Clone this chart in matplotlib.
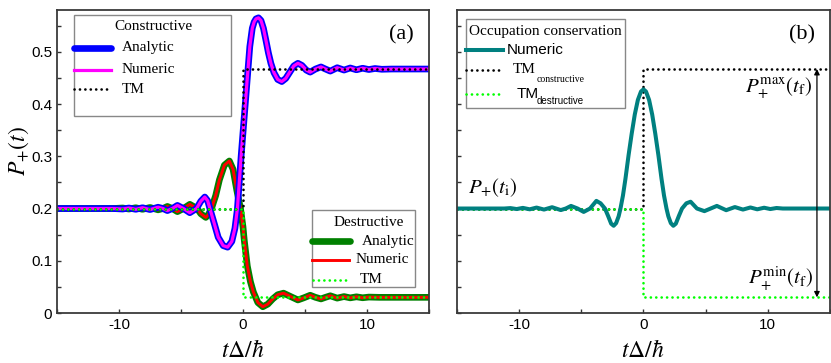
import matplotlib
matplotlib.use("Agg")
import matplotlib.pyplot as plt
from matplotlib.patches import Rectangle
from matplotlib.lines import Line2D
from matplotlib.ticker import MultipleLocator

# ---- data ----
# panel (a): constructive interference
t_con = [-15, -10.5, -9.7, -9.2, -8.65, -8.1, -7.5, -6.85, -6.45, -6.1, -5.7, -5.29, -4.8,
         -4.29, -3.75, -3.4, -3.08, -2.85, -2.67, -2.3, -2.0, -1.6, -1.24, -0.9, -0.65, -0.45,
         -0.3, -0.15, 0.0, 0.15, 0.35, 0.55, 0.75, 0.9, 1.05, 1.25, 1.45, 1.65, 1.85, 2.05, 2.25,
         2.5, 2.8, 3.13, 3.45, 3.8, 4.1, 4.43, 4.75, 5.1, 5.42, 5.85, 6.29, 6.65, 7.04, 7.6, 8.15,
         8.65, 9.15, 9.65, 10.15, 10.65, 11.2, 12, 15]
p_con = [0.2, 0.2, 0.199, 0.201, 0.1985, 0.2015, 0.198, 0.2025, 0.2, 0.196, 0.2, 0.206, 0.2,
         0.192, 0.2, 0.214, 0.222, 0.215, 0.2, 0.17, 0.145, 0.129, 0.126, 0.137, 0.162, 0.2,
         0.25, 0.30, 0.345, 0.39, 0.45, 0.51, 0.545, 0.557, 0.563, 0.565, 0.56, 0.545, 0.522, 0.498, 0.478,
         0.46, 0.447, 0.443, 0.449, 0.462, 0.473, 0.478, 0.474, 0.465, 0.461, 0.467, 0.471, 0.467, 0.463,
         0.4695, 0.465, 0.469, 0.4655, 0.4685, 0.466, 0.468, 0.4665, 0.467, 0.467]

# panel (a): destructive interference
t_des = [-15, -10.5, -9.7, -9.2, -8.65, -8.1, -7.5, -6.85, -6.45, -6.1, -5.7, -5.29, -4.8,
         -4.29, -3.7, -3.4, -3.0, -2.8, -2.54, -2.2, -1.9, -1.5, -1.1, -0.8, -0.5, -0.2,
         0.0, 0.1, 0.35, 0.6, 0.84, 1.2, 1.6, 2.0, 2.4, 2.8, 3.27, 3.8, 4.43, 4.9, 5.42,
         5.85, 6.29, 6.65, 7.04, 7.6, 8.15, 8.65, 9.15, 9.65, 10.15, 11, 15]
p_des = [0.2, 0.2, 0.201, 0.199, 0.2015, 0.1985, 0.202, 0.1975, 0.2, 0.204, 0.2, 0.194, 0.2,
         0.208, 0.2, 0.19, 0.183, 0.188, 0.2, 0.225, 0.255, 0.283, 0.291, 0.275, 0.235, 0.2,
         0.165, 0.14, 0.09, 0.06, 0.04, 0.02, 0.012, 0.017, 0.027, 0.035, 0.038, 0.032, 0.025, 0.029, 0.034,
         0.03, 0.027, 0.03, 0.033, 0.0285, 0.0315, 0.029, 0.031, 0.0292, 0.0305, 0.03, 0.03]

# transient model (TM) steps
t_tm = [-15, 0, 0, 15]
p_tm_con = [0.2, 0.2, 0.467, 0.467]
p_tm_des = [0.2, 0.2, 0.03, 0.03]

# panel (b): occupation conservation, numeric
t_occ = [-15, -11.2, -10.7, -10.2, -9.7, -9.15, -8.6, -8.0, -7.35, -6.65, -6.25, -5.83, -5.3, -4.81,
         -4.3, -3.79, -3.45, -3.1, -2.85, -2.6, -2.4, -2.2, -2.0, -1.85, -1.65, -1.45, -1.2, -0.95,
         -0.7, -0.45, -0.2, 0.0, 0.2, 0.45, 0.7, 0.95, 1.2, 1.45, 1.65, 1.85, 2.0, 2.2, 2.4, 2.6,
         2.85, 3.1, 3.45, 3.79, 4.3, 4.9, 5.4, 5.9, 6.65, 7.35, 8.0, 8.6, 9.15, 9.7, 10.2, 10.7,
         11.2, 15]
p_occ = [0.2, 0.2, 0.2008, 0.199, 0.2012, 0.1985, 0.2018, 0.198, 0.2025, 0.197, 0.2, 0.205, 0.2, 0.1935,
         0.2, 0.2146, 0.21, 0.2, 0.186, 0.171, 0.167, 0.172, 0.185, 0.2, 0.225, 0.257, 0.302, 0.343,
         0.38, 0.408, 0.424, 0.428, 0.424, 0.408, 0.38, 0.343, 0.302, 0.257, 0.225, 0.2, 0.185, 0.172, 0.167, 0.171,
         0.186, 0.2, 0.21, 0.213, 0.2, 0.195, 0.2, 0.205, 0.1968, 0.2028, 0.198, 0.202, 0.1985, 0.2015, 0.199, 0.201,
         0.2, 0.2]

x_ticks = [-10, 0, 10]
y_ticks = [0, 0.1, 0.2, 0.3, 0.4, 0.5]
y_tick_labels = ["0", "0.1", "0.2", "0.3", "0.4", "0.5"]

# ---- style ----
plt.rcParams['font.family'] = ['Liberation Sans', 'DejaVu Sans']
plt.rcParams['mathtext.fontset'] = 'stix'
plt.rcParams['axes.unicode_minus'] = False
SERIF = ['Liberation Serif', 'DejaVu Serif']
DOT = (0, (0.05, 2.0))
dots = dict(lw=1.9, linestyle=DOT, dash_capstyle='round')

fig = plt.figure(figsize=(8.31, 3.63), dpi=100)
ax_a = fig.add_axes([0.0686, 0.1377, 0.4476, 0.8348])
ax_b = fig.add_axes([0.5499, 0.1377, 0.4489, 0.8348])

for ax in (ax_a, ax_b):
    ax.set_xlim(-15, 15)
    ax.set_ylim(0, 0.58)
    ax.set_xticks(x_ticks)
    ax.set_yticks(y_ticks)
    ax.xaxis.set_minor_locator(MultipleLocator(5))
    ax.yaxis.set_minor_locator(MultipleLocator(0.05))
    ax.tick_params(which='both', direction='in', length=2.6, width=1, color='#333333',
                   labelsize=11, top=False, right=False)
    for s in ax.spines.values():
        s.set_linewidth(1.3)
        s.set_color('#3a3a3a')

ax_a.set_yticklabels(y_tick_labels)
ax_b.set_yticklabels([])

# panel (a) curves
ax_a.plot(t_des, p_des, color='#008000', lw=4.8, solid_capstyle='round', solid_joinstyle='round')
ax_a.plot(t_des, p_des, color='#ff0000', lw=2.1, solid_joinstyle='round')
ax_a.plot(t_con, p_con, color='#0000ff', lw=4.8, solid_capstyle='round', solid_joinstyle='round')
ax_a.plot(t_con, p_con, color='#ff00ff', lw=2.3, solid_joinstyle='round')
ax_a.plot(t_tm, p_tm_con, color='black', **dots)
ax_a.plot(t_tm, p_tm_des, color='#00ff00', **dots)

# panel (b) curves
ax_b.plot(t_tm, p_tm_con, color='black', **dots)
ax_b.plot(t_tm, p_tm_des, color='#00ff00', **dots)
ax_b.plot(t_occ, p_occ, color='#008080', lw=2.9, solid_joinstyle='round')


def legend_box(ax, x0, y0, x1, y1):
    ax.add_patch(Rectangle((x0, y0), x1 - x0, y1 - y0, transform=ax.transAxes,
                           fill=True, facecolor='white', edgecolor='#888888', lw=1, zorder=5))


def legend_line(ax, x0, x1, y, **kw):
    ax.add_line(Line2D([x0, x1], [y, y], transform=ax.transAxes, zorder=6, **kw))


# constructive legend
legend_box(ax_a, 0.0457, 0.650, 0.4677, 0.9835)
ax_a.text(0.258, 0.944, 'Constructive', transform=ax_a.transAxes, ha='center', va='center',
          fontsize=11, family=SERIF, zorder=7)
legend_line(ax_a, 0.045, 0.145, 0.8746, color='#0000ff', lw=4.8, solid_capstyle='round')
legend_line(ax_a, 0.045, 0.145, 0.802, color='#ff00ff', lw=2.3)
legend_line(ax_a, 0.045, 0.145, 0.739, color='black', **dots)
for y, lab in [(0.8746, 'Analytic'), (0.802, 'Numeric'), (0.739, 'TM')]:
    ax_a.text(0.1747, y, lab, transform=ax_a.transAxes, ha='left', va='center',
              fontsize=11, family=SERIF, zorder=7)

# destructive legend
legend_box(ax_a, 0.6855, 0.0858, 0.9624, 0.340)
ax_a.text(0.8387, 0.300, 'Destructive', transform=ax_a.transAxes, ha='center', va='center',
          fontsize=11, family=SERIF, zorder=7)
legend_line(ax_a, 0.685, 0.7876, 0.2376, color='#008000', lw=4.8, solid_capstyle='round')
legend_line(ax_a, 0.6855, 0.785, 0.175, color='#ff0000', lw=2.1)
legend_line(ax_a, 0.688, 0.780, 0.109, color='#00ff00', **dots)
for x, y, lab in [(0.8199, 0.2376, 'Analytic'), (0.8038, 0.175, 'Numeric'), (0.8145, 0.109, 'TM')]:
    ax_a.text(x, y, lab, transform=ax_a.transAxes, ha='left', va='center',
              fontsize=11, family=SERIF, zorder=7)

# panel (b) legend
legend_box(ax_b, 0.0241, 0.6766, 0.4504, 0.9703)
ax_b.text(0.2373, 0.9274, 'Occupation conservation', transform=ax_b.transAxes, ha='center',
          va='center', fontsize=11, family=SERIF, zorder=7)
legend_line(ax_b, 0.0241, 0.1233, 0.868, color='#008080', lw=2.9)
legend_line(ax_b, 0.0241, 0.1153, 0.802, color='black', **dots)
legend_line(ax_b, 0.0241, 0.1153, 0.7228, color='#00ff00', **dots)
ax_b.text(0.134, 0.868, 'Numeric', transform=ax_b.transAxes, ha='left', va='center',
          fontsize=11, zorder=7)
ax_b.text(0.150, 0.802, 'TM', transform=ax_b.transAxes, ha='left', va='center',
          fontsize=11, family=SERIF, zorder=7)
ax_b.text(0.2145, 0.772, 'constructive', transform=ax_b.transAxes, ha='left', va='center',
          fontsize=7, family=SERIF, zorder=7)
ax_b.text(0.161, 0.7228, 'TM', transform=ax_b.transAxes, ha='left', va='center',
          fontsize=11, zorder=7)
ax_b.text(0.2145, 0.700, 'destructive', transform=ax_b.transAxes, ha='left', va='center',
          fontsize=7, zorder=7)

# panel labels
ax_a.text(0.927, 0.917, '(a)', transform=ax_a.transAxes, ha='center', va='center',
          fontsize=16, family=SERIF)
ax_b.text(0.925, 0.917, '(b)', transform=ax_b.transAxes, ha='center', va='center',
          fontsize=16, family=SERIF)

# panel (b) annotations
ax_b.text(-14.1, 0.24, r'$P_{+}(t_{\mathrm{i}})$', ha='left', va='center', fontsize=15)
ax_b.text(13.6, 0.43, r'$P_{+}^{\mathrm{max}}(t_{\mathrm{f}})$', ha='right', va='center', fontsize=15)
ax_b.text(13.6, 0.066, r'$P_{+}^{\mathrm{min}}(t_{\mathrm{f}})$', ha='right', va='center', fontsize=15)
ax_b.annotate('', xy=(13.95, 0.03), xytext=(13.95, 0.467),
              arrowprops=dict(arrowstyle='<|-|>', color='black', lw=0.9,
                              mutation_scale=8, shrinkA=0, shrinkB=0))

# axis labels
fig.text(0.2924, 0.032, r'$t\Delta/\hbar$', ha='center', va='center', fontsize=17)
fig.text(0.7738, 0.032, r'$t\Delta/\hbar$', ha='center', va='center', fontsize=17)
fig.text(0.022, 0.584, r'$P_{+}(t)$', ha='center', va='center', fontsize=17, rotation=90)

fig.savefig('out.png', dpi=100)
